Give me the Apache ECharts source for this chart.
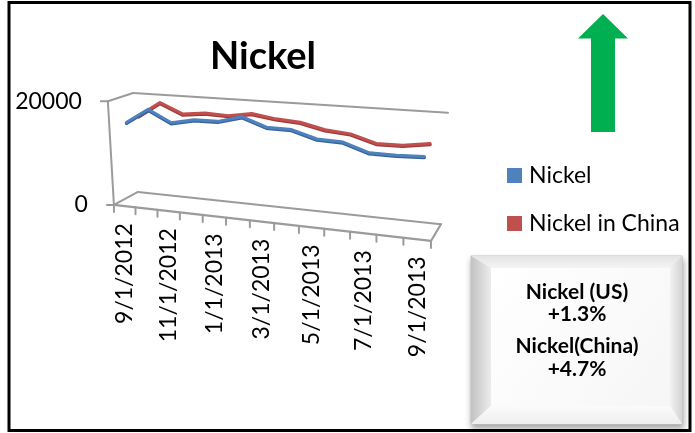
<!DOCTYPE html>
<html>
<head>
<meta charset="utf-8">
<script src="https://cdn.jsdelivr.net/npm/echarts@6/dist/echarts.min.js"></script>
<style>
  html, body { margin: 0; padding: 0; background: #fff; }
  #chart { width: 695px; height: 433px; }
</style>
</head>
<body>
<div id="chart"></div>
<script>
// Monthly nickel prices, Sep 2012 - Sep 2013
const categories = ['9/1/2012', '10/1/2012', '11/1/2012', '12/1/2012', '1/1/2013', '2/1/2013', '3/1/2013',
                    '4/1/2013', '5/1/2013', '6/1/2013', '7/1/2013', '8/1/2013', '9/1/2013'];
const nickel      = [15770, 18520, 16310, 17170, 17200, 18350, 16780, 16700, 15370, 15180, 13680, 13630, 13810];
const nickelChina = [16100, 18960, 17080, 17550, 17360, 18060, 17380, 17070, 16040, 15640, 14280, 14310, 14980];
const valueTicks = [0, 20000];
const seriesNames = ['Nickel', 'Nickel in China'];
const changeLines = ['Nickel (US)', '+1.3%', 'Nickel(China)', '+4.7%'];

const FONT = 'Lato, "Open Sans", sans-serif';
const GRID_COLOR = '#9b9b9b';

// Perspective box: screen anchors for corners of the plot cube.
// u runs along the dates, d goes into depth, v goes up the value axis.
const cubeAnchors = [
  [0, 0, 0, 114, 205], [1, 0, 0, 431, 241], [0.5, 0, 0, 261.7, 221.8],
  [0, 1, 0, 138, 192], [1, 1, 0, 441, 224],
  [0, 1, 1, 133, 93],  [1, 1, 1, 448, 113],
  [0, 0, 1, 108, 101]
];

// Fit a 3D -> 2D projective camera to the anchors (least squares DLT).
function solveCamera(anchors) {
  const S = 100, OX = 300, OY = 200, n = 11;
  const M = Array.from({ length: n }, () => new Array(n + 1).fill(0));
  const add = (row, b) => {
    for (let i = 0; i < n; i++) {
      for (let j = 0; j < n; j++) M[i][j] += row[i] * row[j];
      M[i][n] += row[i] * b;
    }
  };
  anchors.forEach(([u, d, v, x, y]) => {
    const X = (x - OX) / S, Y = (y - OY) / S;
    add([u, d, v, 1, 0, 0, 0, 0, -X * u, -X * d, -X * v], X);
    add([0, 0, 0, 0, u, d, v, 1, -Y * u, -Y * d, -Y * v], Y);
  });
  for (let c = 0; c < n; c++) {
    let piv = c;
    for (let r = c + 1; r < n; r++) if (Math.abs(M[r][c]) > Math.abs(M[piv][c])) piv = r;
    const tmp = M[c]; M[c] = M[piv]; M[piv] = tmp;
    for (let r = 0; r < n; r++) {
      if (r === c) continue;
      const f = M[r][c] / M[c][c];
      for (let k = c; k <= n; k++) M[r][k] -= f * M[c][k];
    }
  }
  const p = M.map((row, i) => row[n] / row[i]);
  return (u, d, v) => {
    const w = p[8] * u + p[9] * d + p[10] * v + 1;
    return [OX + S * (p[0] * u + p[1] * d + p[2] * v + p[3]) / w,
            OY + S * (p[4] * u + p[5] * d + p[6] * v + p[7]) / w];
  };
}
const project = solveCamera(cubeAnchors);

// Normalised (u, v) of a data point, taken from the hidden cartesian scales.
function toUnit(api, cs, i, val) {
  const p = api.coord([i, val]);
  return [(p[0] - cs.x) / cs.width, (cs.y + cs.height - p[1]) / cs.height];
}

function seg(a, b, color, width) {
  return { type: 'line', shape: { x1: a[0], y1: a[1], x2: b[0], y2: b[1] },
           style: { stroke: color, lineWidth: width, lineCap: 'round' } };
}

function renderFrame(params, api) {
  const cs = params.coordSys;
  const children = [];
  const vTop = toUnit(api, cs, 0, valueTicks[valueTicks.length - 1])[1];
  const vBottom = toUnit(api, cs, 0, valueTicks[0])[1];
  const P = project;
  // gridlines on side and back walls
  valueTicks.forEach(t => {
    const v = toUnit(api, cs, 0, t)[1];
    children.push(seg(P(0, 0, v), P(0, 1, v), GRID_COLOR, 2));
    children.push(seg(P(0, 1, v), P(1, 1, v), GRID_COLOR, 2));
  });
  // floor outline
  children.push(seg(P(0, 0, vBottom), P(1, 0, vBottom), GRID_COLOR, 2.2));
  children.push(seg(P(1, 0, vBottom), P(1, 1, vBottom), GRID_COLOR, 2.2));
  // value axis
  children.push(seg(P(0, 0, vBottom), P(0, 0, vTop), GRID_COLOR, 2));
  valueTicks.forEach(t => {
    const v = toUnit(api, cs, 0, t)[1];
    const a = P(0, 0, v);
    children.push(seg([a[0] - 7, a[1]], a, GRID_COLOR, 2));
    children.push({ type: 'text', x: a[0] - 26, y: a[1],
      style: { text: String(t), fontFamily: FONT, fontSize: 23, fill: '#000',
               align: 'right', verticalAlign: 'middle' } });
  });
  // category ticks
  const n = categories.length;
  for (let k = 0; k <= n; k++) {
    const a = P(k / n, 0, vBottom);
    children.push(seg(a, [a[0], a[1] + 7], GRID_COLOR, 2));
  }
  // category labels (every other month)
  categories.forEach((c, i) => {
    if (i % 2) return;
    const u = toUnit(api, cs, i, 0)[0];
    const a = P(u, 0, vBottom);
    children.push({ type: 'text', x: a[0], y: a[1] + 17, rotation: Math.PI / 2,
      style: { text: c, fontFamily: FONT, fontSize: 23, fill: '#000',
               align: 'right', verticalAlign: 'middle' } });
  });
  return { type: 'group', children };
}

function lineRenderer(values, depth, color, shade) {
  return function (params, api) {
    const cs = params.coordSys;
    const pts = values.map((val, i) => {
      const uv = toUnit(api, cs, i, val);
      return project(uv[0], depth, uv[1]);
    });
    return { type: 'group', children: [
      { type: 'polyline', shape: { points: pts.map(p => [p[0], p[1] + 1]) },
        style: { stroke: shade, lineWidth: 3.5, fill: null, lineJoin: 'round', lineCap: 'round' } },
      { type: 'polyline', shape: { points: pts },
        style: { stroke: color, lineWidth: 3, fill: null, lineJoin: 'round', lineCap: 'round' } }
    ] };
  };
}

const chart = echarts.init(document.getElementById('chart'), null, { renderer: 'canvas' });

// bevelled note box
const BX = 471, BY = 256, BW = 211, BH = 168, IL = 20, IT = 12, IR = 12, IB = 18;
const bx2 = BX + BW, by2 = BY + BH;
const grad = (x, y, x2, y2, c0, c1) => new echarts.graphic.LinearGradient(x, y, x2, y2,
  [{ offset: 0, color: c0 }, { offset: 1, color: c1 }]);
const boxText = (s, y) => ({ type: 'text', x: 577, y,
  style: { text: s, fontFamily: FONT, fontSize: 21, fontWeight: 'bold', fill: '#000',
           align: 'center', verticalAlign: 'middle' } });

chart.setOption({
  animation: false,
  backgroundColor: '#fff',
  title: {
    text: 'Nickel', left: 258, top: 33, textAlign: 'center',
    textStyle: { fontFamily: FONT, fontSize: 38, fontWeight: 'bold', color: '#000' }
  },
  legend: {
    orient: 'vertical', left: 502, top: 159, itemWidth: 15, itemHeight: 15, itemGap: 25,
    icon: 'rect', selectedMode: false, data: seriesNames,
    textStyle: { fontFamily: FONT, fontSize: 23, color: '#000', padding: [0, 0, 0, 2] }
  },
  grid: { left: 0, top: 0, right: 0, bottom: 0 },
  xAxis: { type: 'category', data: categories, show: false, boundaryGap: true },
  yAxis: { type: 'value', min: 0, max: 20000, show: false },
  series: [
    { type: 'custom', name: 'frame', data: [[0, 0]], renderItem: renderFrame, silent: true, z: 1 },
    { type: 'custom', name: seriesNames[1], data: [[0, 0]], itemStyle: { color: '#C0504D' },
      renderItem: lineRenderer(nickelChina, 0.75, '#C0504D', '#9c3b39'), z: 2 },
    { type: 'custom', name: seriesNames[0], data: [[0, 0]], itemStyle: { color: '#4F81BD' },
      renderItem: lineRenderer(nickel, 0.25, '#4F81BD', '#36629a'), z: 3 }
  ],
  graphic: [
    { type: 'rect', shape: { x: 9, y: 2.5, width: 681, height: 428 },
      style: { fill: null, stroke: '#000', lineWidth: 3 }, z: 10 },
    { type: 'polygon', z: 10,
      shape: { points: [[603, 14], [628, 38.5], [615, 38.5], [615, 132], [591, 132], [591, 38.5], [578, 38.5]] },
      style: { fill: '#00B050' } },
    { type: 'group', z: 10, children: [
      { type: 'rect', shape: { x: BX, y: BY, width: BW, height: BH },
        style: { fill: '#f4f4f4', stroke: '#c4c4c4', lineWidth: 1,
                 shadowBlur: 6, shadowOffsetX: 1, shadowOffsetY: 4, shadowColor: 'rgba(0,0,0,0.35)' } },
      { type: 'polygon', shape: { points: [[BX, BY], [bx2, BY], [bx2 - IR, BY + IT], [BX + IL, BY + IT]] },
        style: { fill: grad(0, 0, 0, 1, '#e4e4e4', '#f4f4f4') } },
      { type: 'polygon', shape: { points: [[BX, BY], [BX + IL, BY + IT], [BX + IL, by2 - IB], [BX, by2]] },
        style: { fill: grad(0, 0, 1, 0, '#c2c2c2', '#ececec') } },
      { type: 'polygon', shape: { points: [[bx2, BY], [bx2, by2], [bx2 - IR, by2 - IB], [bx2 - IR, BY + IT]] },
        style: { fill: grad(1, 0, 0, 0, '#d4d4d4', '#f2f2f2') } },
      { type: 'polygon', shape: { points: [[BX, by2], [BX + IL, by2 - IB], [bx2 - IR, by2 - IB], [bx2, by2]] },
        style: { fill: grad(0, 1, 0, 0, '#eeeeee', '#fbfbfb') } },
      { type: 'rect', shape: { x: BX + IL, y: BY + IT, width: BW - IL - IR, height: BH - IT - IB },
        style: { fill: grad(0, 0, 1, 1, '#ffffff', '#f6f6f6') } },
      boxText(changeLines[0], 292),
      boxText(changeLines[1], 314),
      boxText(changeLines[2], 346),
      boxText(changeLines[3], 369)
    ] }
  ]
});
</script>
</body>
</html>
